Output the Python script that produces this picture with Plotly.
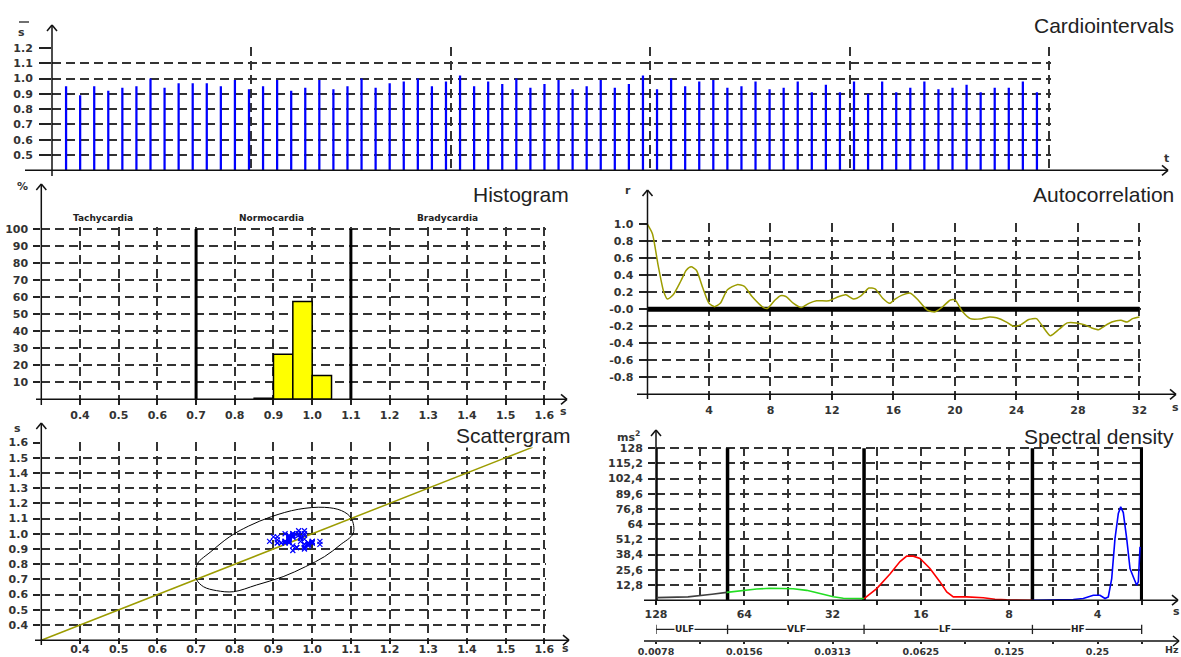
import math
import plotly.graph_objects as go

W, H = 1181, 657

# ---------------- data ----------------
rr_intervals = [0.95, 0.89, 0.95, 0.92, 0.94, 0.95, 1.00, 0.94, 0.97, 0.97, 0.97, 0.95,
                0.99, 0.93, 0.95, 0.99, 0.92, 0.94, 0.99, 0.93, 0.95, 1.00, 0.94, 0.97,
                0.98, 1.00, 0.95, 0.98, 1.02, 0.95, 0.98, 0.965, 1.00, 0.94, 0.965, 0.99,
                0.93, 0.95, 0.99, 0.94, 0.965, 1.02, 0.93, 1.00, 0.95, 0.98, 0.99, 0.94,
                0.95, 0.98, 0.93, 0.94, 0.98, 0.91, 0.96, 0.91, 0.98, 0.90, 0.98, 0.91,
                0.94, 0.98, 0.93, 0.94, 0.96, 0.91, 0.94, 0.94, 0.98, 0.91]
beat_number = list(range(1, len(rr_intervals) + 1))
cardio_time_grid = [14.17, 28.34, 42.51, 56.68, 70.85]
cardio_yticks = [0.5, 0.6, 0.7, 0.8, 0.9, 1.0, 1.1, 1.2]

hist_bin_centers = [0.875, 0.925, 0.975, 1.025]
hist_percent = [0.6, 26.5, 57.5, 14.0]
hist_bin_width = 0.05
rhythm_bounds = [0.7, 1.1]
rhythm_labels = ["Tachycardia", "Normocardia", "Bradycardia"]
rhythm_label_x = [0.46, 0.895, 1.35]
rr_ticks = [0.4, 0.5, 0.6, 0.7, 0.8, 0.9, 1.0, 1.1, 1.2, 1.3, 1.4, 1.5, 1.6]
hist_yticks = [10, 20, 30, 40, 50, 60, 70, 80, 90, 100]

acf_lag = [0, 0.32, 0.69, 1.05, 1.3, 1.67, 2.16, 2.52, 2.84, 3.18, 3.6, 4.0, 4.36, 4.73,
           5.2, 5.83, 6.3, 6.8, 7.55, 7.8, 8.3, 8.65, 9.0, 9.5, 10.0, 10.5, 11.0, 11.8,
           12.45, 12.9, 13.4, 13.9, 14.4, 14.8, 15.3, 15.75, 16.1, 16.6, 17.1, 17.6,
           18.2, 18.7, 19.2, 19.7, 20.0, 20.5, 21.0, 21.75, 22.25, 22.7, 23.35, 23.8,
           24.3, 24.8, 25.3, 25.7, 26.2, 26.8, 27.3, 27.9, 28.4, 28.9, 29.35, 29.7,
           30.2, 30.8, 31.2, 31.55, 32.0]
acf_r = [1.0, 0.89, 0.52, 0.21, 0.12, 0.17, 0.33, 0.46, 0.50, 0.46, 0.25, 0.07, 0.03, 0.07,
         0.23, 0.29, 0.27, 0.15, 0.02, 0.01, 0.11, 0.16, 0.15, 0.07, 0.02, 0.07, 0.10, 0.10,
         0.15, 0.17, 0.12, 0.16, 0.25, 0.24, 0.13, 0.07, 0.12, 0.17, 0.19, 0.11,
         -0.01, -0.03, 0.03, 0.11, 0.11, -0.03, -0.11, -0.11, -0.09, -0.10, -0.15, -0.20,
         -0.18, -0.12, -0.11, -0.20, -0.31, -0.23, -0.16, -0.16, -0.18, -0.22, -0.24, -0.20,
         -0.15, -0.13, -0.15, -0.11, -0.09]
acf_xticks = [4, 8, 12, 16, 20, 24, 28, 32]
acf_yticks = [1.0, 0.8, 0.6, 0.4, 0.2, 0.0, -0.2, -0.4, -0.6, -0.8]
acf_yticktext = ["1.0", "0.8", "0.6", "0.4", "0.2", "-0.0", "-0.2", "-0.4", "-0.6", "-0.8"]
acf_zero = [0, 32]

ellipse_x = [0.699, 0.704, 0.738, 0.787, 0.836, 0.895, 0.964, 1.032, 1.076, 1.101, 1.106,
             1.072, 1.032, 0.983, 0.925, 0.856, 0.797, 0.753, 0.719, 0.701, 0.699]
ellipse_y = [0.751, 0.806, 0.882, 0.981, 1.051, 1.113, 1.161, 1.174, 1.152, 1.102, 1.003,
             0.926, 0.850, 0.784, 0.718, 0.663, 0.619, 0.626, 0.652, 0.700, 0.751]
identity_line = [0.3, 1.57]

ulf_f = [0.00781, 0.01004, 0.01213, 0.01361]
ulf_p = [2.2, 2.8, 5.0, 6.6]
vlf_f = [0.01361, 0.01511, 0.01722, 0.01912, 0.02295, 0.02550, 0.02831, 0.03142, 0.03398, 0.0400]
vlf_p = [6.6, 8.0, 9.4, 10.0, 9.7, 8.3, 5.7, 2.9, 1.6, 1.3]
lf_f = [0.0400, 0.04418, 0.04904, 0.05305, 0.05591, 0.05888, 0.06206, 0.06712, 0.07262,
        0.07654, 0.08060, 0.08955, 0.1020, 0.1118, 0.1226, 0.1500]
lf_p = [1.4, 9.8, 22.0, 32.5, 37.1, 37.1, 35.1, 26.7, 15.4, 7.0, 2.8, 2.8, 2.0, 0.8, 0.3, 0.0]
hf_f = [0.1500, 0.1767, 0.2067, 0.2236, 0.2419, 0.2549, 0.2652, 0.2721, 0.2795, 0.2868,
        0.2944, 0.2999, 0.3061, 0.3144, 0.3227, 0.3312, 0.3401, 0.3444, 0.3491]
hf_p = [0.0, 0.3, 0.6, 1.4, 4.2, 4.2, 1.4, 2.8, 18.2, 51.9, 73.0, 78.6, 73.8, 51.9, 26.7,
        19.6, 12.6, 15.4, 44.9]
band_edges = [0.0078125, 0.0137, 0.04, 0.15, 0.3536]
band_names = ["ULF", "VLF", "LF", "HF"]
band_label_f = [0.0098, 0.0236, 0.0755, 0.2145]
psd_yticks = [12.8, 25.6, 38.4, 51.2, 64, 76.8, 89.6, 102.4, 115.2, 128]
psd_yticktext = ["12,8", "25,6", "38,4", "51,2", "64", "76,8", "89,6", "102,4", "115,2", "128"]
period_ticktext = ["128", "", "64", "", "32", "", "16", "", "8", "", "4", ""]
hz_ticktext = ["0.0078", "", "0.0156", "", "0.0313", "", "0.0625", "", "0.125", "", "0.25", ""]

# ---------------- styling helpers ----------------
GRID = "#333333"
DASH = "9px,5px"
TXT = "#333333"
OLIVE = "#9c9c00"
TICKFONT = dict(family="DejaVu Sans", size=11, color=TXT, weight="bold")
SMALLTICK = dict(family="DejaVu Sans", size=9.5, color=TXT, weight="bold")
TITLEFONT = dict(family="Liberation Sans", size=21, color="#222222")


def fx(px):
    return px / W


def fy(py):
    return 1 - py / H


def axis(domain, rng, tickvals=None, ticktext=None, labels=True, ticks="outside",
         ticklen=5, grid=True, anchor=None, typ="linear", standoff=None, font=None):
    d = dict(domain=domain, range=rng, showline=False, zeroline=False, type=typ,
             showgrid=grid, gridcolor=GRID, griddash=DASH, gridwidth=1.5,
             ticks=ticks, ticklen=ticklen, tickcolor="#222222", tickwidth=1.5,
             showticklabels=labels, tickfont=font or TICKFONT, fixedrange=True, automargin=False)
    if tickvals is not None:
        d["tickmode"] = "array"
        d["tickvals"] = tickvals
        if ticktext is not None:
            d["ticktext"] = ticktext
    if anchor:
        d["anchor"] = anchor
    if standoff is not None:
        d["ticklabelstandoff"] = standoff
    return d


fig = go.Figure()

# ---------- panel 1: cardiointervals ----------
fig.add_trace(go.Bar(x=beat_number, y=rr_intervals, width=0.16, marker=dict(color="#0000ff", line=dict(width=0)),
                     xaxis="x", yaxis="y"))

# ---------- panel 2: histogram ----------
fig.add_trace(go.Bar(x=hist_bin_centers, y=hist_percent, width=hist_bin_width,
                     marker=dict(color="#ffff00", line=dict(color="#000000", width=1.5)),
                     xaxis="x2", yaxis="y2"))
for b in rhythm_bounds:
    fig.add_trace(go.Scatter(x=[b, b], y=[0, 100], mode="lines",
                             line=dict(color="#000000", width=3), xaxis="x2", yaxis="y2"))

# ---------- panel 3: autocorrelation ----------
fig.add_trace(go.Scatter(x=acf_zero, y=[0, 0], mode="lines", line=dict(color="#000000", width=5),
                         xaxis="x3", yaxis="y3"))
fig.add_trace(go.Scatter(x=acf_lag, y=acf_r, mode="lines", line=dict(color=OLIVE, width=1.5, shape="spline", smoothing=0.6),
                         xaxis="x3", yaxis="y3"))

# ---------- panel 4: scattergram ----------
fig.add_trace(go.Scatter(x=identity_line, y=identity_line, mode="lines", line=dict(color=OLIVE, width=1.5),
                         xaxis="x4", yaxis="y4"))
fig.add_trace(go.Scatter(x=ellipse_x, y=ellipse_y, mode="lines", line=dict(color="#000000", width=1, shape="spline", smoothing=1),
                         xaxis="x4", yaxis="y4"))
fig.add_trace(go.Scatter(x=rr_intervals[:-1], y=rr_intervals[1:], mode="markers",
                         marker=dict(symbol="x-thin", size=5, line=dict(color="#0000ff", width=1.2)),
                         xaxis="x4", yaxis="y4"))

# ---------- panel 5: spectral density ----------
for b in band_edges:
    fig.add_trace(go.Scatter(x=[b, b], y=[0, 128], mode="lines", line=dict(color="#000000", width=3.5),
                             xaxis="x5", yaxis="y5"))
for fs, ps, col in [(ulf_f, ulf_p, "#404040"), (vlf_f, vlf_p, "#22dd22"),
                    (lf_f, lf_p, "#ff0000"), (hf_f, hf_p, "#0000ff")]:
    fig.add_trace(go.Scatter(x=fs, y=ps, mode="lines", line=dict(color=col, width=1.6),
                             xaxis="x5", yaxis="y5"))
# band bar
fig.add_trace(go.Scatter(x=[band_edges[0], band_edges[-1]], y=[0.55, 0.55], mode="lines",
                         line=dict(color="#222222", width=1.3), xaxis="x6", yaxis="y6"))
for b in band_edges:
    fig.add_trace(go.Scatter(x=[b, b], y=[0.33, 0.77], mode="lines", line=dict(color="#222222", width=1.3),
                             xaxis="x6", yaxis="y6"))

# ---------------- layout ----------------
f0 = 1 / 128.0
OCT = 88.3
half_oct = [f0 * 2 ** (k / 2) for k in range(12)]
psd_xrange = [math.log10(f0), math.log10(f0 * 2 ** ((1143 - 656) / OCT))]
rr_text = [f"{v:.1f}" for v in rr_ticks]

layout = dict(
    width=W, height=H, margin=dict(l=0, r=0, t=0, b=0, pad=0, autoexpand=False),
    paper_bgcolor="white", plot_bgcolor="white", showlegend=False,
    xaxis=axis([fx(52), fx(1051)], [0, 71.0], cardio_time_grid, labels=False, ticks="", anchor="y"),
    yaxis=axis([fy(170.3), fy(47.2)], [0.4, 1.205], cardio_yticks,
               [f"{v:.1f}" for v in cardio_yticks], ticklen=12, anchor="x", standoff=4),
    xaxis2=axis([fx(41.3), fx(546.3)], [0.3, 1.605], rr_ticks, rr_text, anchor="y2"),
    yaxis2=axis([fy(399.3), fy(227.3)], [0, 101], hist_yticks, [str(v) for v in hist_yticks],
                ticklen=7, anchor="x2", standoff=3),
    xaxis3=axis([fx(647.5), fx(1141.0)], [0, 32.1], acf_xticks, [str(v) for v in acf_xticks], anchor="y3"),
    yaxis3=axis([fy(394.3), fy(223.45)], [-1, 1.01], acf_yticks, acf_yticktext,
                ticklen=8, anchor="x3", standoff=3),
    xaxis4=axis([fx(41.3), fx(546.3)], [0.3, 1.605], rr_ticks, rr_text, anchor="y4", ticklen=3, standoff=-4),
    yaxis4=axis([fy(640.2), fy(441.8)], [0.3, 1.605], rr_ticks, rr_text,
                ticklen=7, anchor="x4", standoff=3),
    xaxis5=axis([fx(656), fx(1143)], psd_xrange, half_oct, period_ticktext, typ="log", ticklen=4, anchor="y5"),
    yaxis5=axis([fy(600.2), fy(447.0)], [0, 129], psd_yticks, psd_yticktext, ticklen=7, anchor="x5", standoff=3),
    xaxis6=axis([fx(656), fx(1143)], psd_xrange, half_oct, hz_ticktext, typ="log", ticklen=2,
                grid=False, anchor="y6", standoff=0, font=SMALLTICK),
    yaxis6=dict(domain=[fy(641), fy(620)], range=[0, 1], visible=False, anchor="x6", fixedrange=True),
)

shapes = []


def seg(x0, y0, x1, y1, w=1.5):
    shapes.append(dict(type="line", xref="paper", yref="paper", x0=fx(x0), y0=fy(y0), x1=fx(x1), y1=fy(y1),
                       line=dict(color="#111111", width=w)))


def arrow_up(px, py):
    seg(px - 5, py + 6, px, py)
    seg(px + 5, py + 6, px, py)


def arrow_right(px, py):
    seg(px - 6, py - 5, px, py)
    seg(px - 6, py + 5, px, py)


# cardio axes
seg(52, 176, 52, 25); arrow_up(52, 25)
seg(25, 170.3, 1168, 170.3); arrow_right(1168, 170.3)
seg(19, 22, 29, 22, w=1.2)
# histogram axes
seg(41.3, 405, 41.3, 184); arrow_up(41.3, 184)
seg(36, 399.3, 567, 399.3); arrow_right(567, 399.3)
# autocorrelation axes
seg(647.5, 399, 647.5, 190); arrow_up(647.5, 190)
seg(637, 394.3, 1176, 394.3); arrow_right(1176, 394.3)
# scattergram axes
seg(41.3, 645, 41.3, 423); arrow_up(41.3, 423)
seg(35, 640.2, 569, 640.2); arrow_right(569, 640.2)
# spectral axes
seg(656, 604, 656, 430); arrow_up(656, 430)
seg(644, 600.2, 1178, 600.2); arrow_right(1178, 600.2)
seg(644, 641, 1179, 641); arrow_right(1179, 641)

layout["shapes"] = shapes

ann = []


def text(px, py, s, xanchor="center", font=None, bg=None):
    d = dict(x=fx(px), y=fy(py), xref="paper", yref="paper", text=s, showarrow=False,
             xanchor=xanchor, yanchor="middle", font=font or TICKFONT, borderpad=0)
    if bg:
        d["bgcolor"] = bg
    ann.append(d)


text(1175, 25, "Cardiointervals", "right", TITLEFONT)
text(570, 195, "Histogram", "right", TITLEFONT)
text(1175, 195, "Autocorrelation", "right", TITLEFONT)
text(571, 435, "Scattergram", "right", TITLEFONT, bg="white")
text(1175, 436, "Spectral density", "right", TITLEFONT)

text(21, 32, "s")
text(1166, 158, "t")
text(22, 187, "%")
text(563, 411, "s")
text(628, 190, "r")
text(1175, 407, "s")
text(17, 428, "s")
text(565, 648, "s")
text(628, 436, "ms<sup>2</sup>")
text(1176, 611, "s")
text(1172, 649, "Hz", font=SMALLTICK)

SMALLBOLD = dict(family="DejaVu Sans", size=9, color="#222222", weight="bold")
for lbl, xv in zip(rhythm_labels, rhythm_label_x):
    ann.append(dict(x=xv, y=fy(218), xref="x2", yref="paper", text=lbl, showarrow=False,
                    font=SMALLBOLD, xanchor="center", yanchor="middle"))
for lbl, fv in zip(band_names, band_label_f):
    ann.append(dict(x=math.log10(fv), y=0.55, xref="x6", yref="y6", text=lbl, showarrow=False,
                    font=SMALLBOLD, xanchor="center", yanchor="middle", bgcolor="white", borderpad=0))

layout["annotations"] = ann
fig.update_layout(**layout)
fig.write_html("out.html", config={"displayModeBar": False},
               post_script="document.body.style.margin='0';document.body.style.overflow='hidden';")
